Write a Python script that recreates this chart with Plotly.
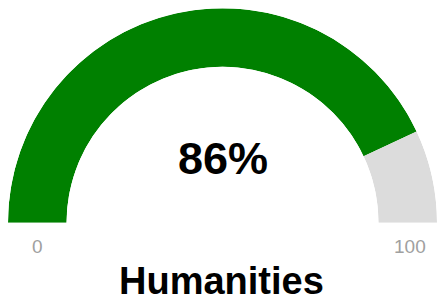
import plotly.graph_objects as go

# Data
category = "Humanities"
value = 86
min_value = 0
max_value = 100
value_color = "#008000"
rest_color = "#dcdcdc"

W, H = 437, 304
deg_per_unit = 180.0 / (max_value - min_value)

fig = go.Figure()
fig.add_trace(go.Barpolar(
    r=[1, 1],
    theta=[(value - min_value) / 2 * deg_per_unit,
           ((value + max_value) / 2 - min_value) * deg_per_unit],
    width=[(value - min_value) * deg_per_unit, (max_value - value) * deg_per_unit],
    marker=dict(color=[value_color, rest_color], line=dict(width=0)),
    hoverinfo="skip",
))

fig.update_layout(
    width=W, height=H,
    margin=dict(l=0, r=0, t=0, b=0),
    paper_bgcolor="white",
    plot_bgcolor="white",
    showlegend=False,
    dragmode=False,
    polar=dict(
        domain=dict(x=[8 / W, 1], y=[(H - 223) / H, (H - 8) / H]),
        sector=[0, 180],
        hole=0.727,
        bgcolor="white",
        radialaxis=dict(visible=False, range=[0, 1]),
        angularaxis=dict(visible=False, rotation=180, direction="clockwise",
                         showgrid=False, showline=False, ticks=""),
    ),
    annotations=[
        dict(text=f"<b>{value}%</b>", x=223.5 / W, y=(H - 158.5) / H, xref="paper", yref="paper",
             xanchor="center", yanchor="middle", showarrow=False,
             font=dict(family="Liberation Sans, Arial", size=45, color="black")),
        dict(text=str(min_value), x=37.5 / W, y=(H - 246) / H, xref="paper", yref="paper",
             xanchor="center", yanchor="middle", showarrow=False,
             font=dict(family="Liberation Sans, Arial", size=19, color="#a0a0a0")),
        dict(text=str(max_value), x=410 / W, y=(H - 246) / H, xref="paper", yref="paper",
             xanchor="center", yanchor="middle", showarrow=False,
             font=dict(family="Liberation Sans, Arial", size=19, color="#a0a0a0")),
        dict(text=f"<b>{category}</b>", x=221 / W, y=(H - 281) / H, xref="paper", yref="paper",
             xanchor="center", yanchor="middle", showarrow=False,
             font=dict(family="Liberation Sans, Arial", size=38, color="black")),
    ],
)

fig.write_html("out.html", config={"displayModeBar": False, "staticPlot": True},
               post_script="document.body.style.margin='0';")
